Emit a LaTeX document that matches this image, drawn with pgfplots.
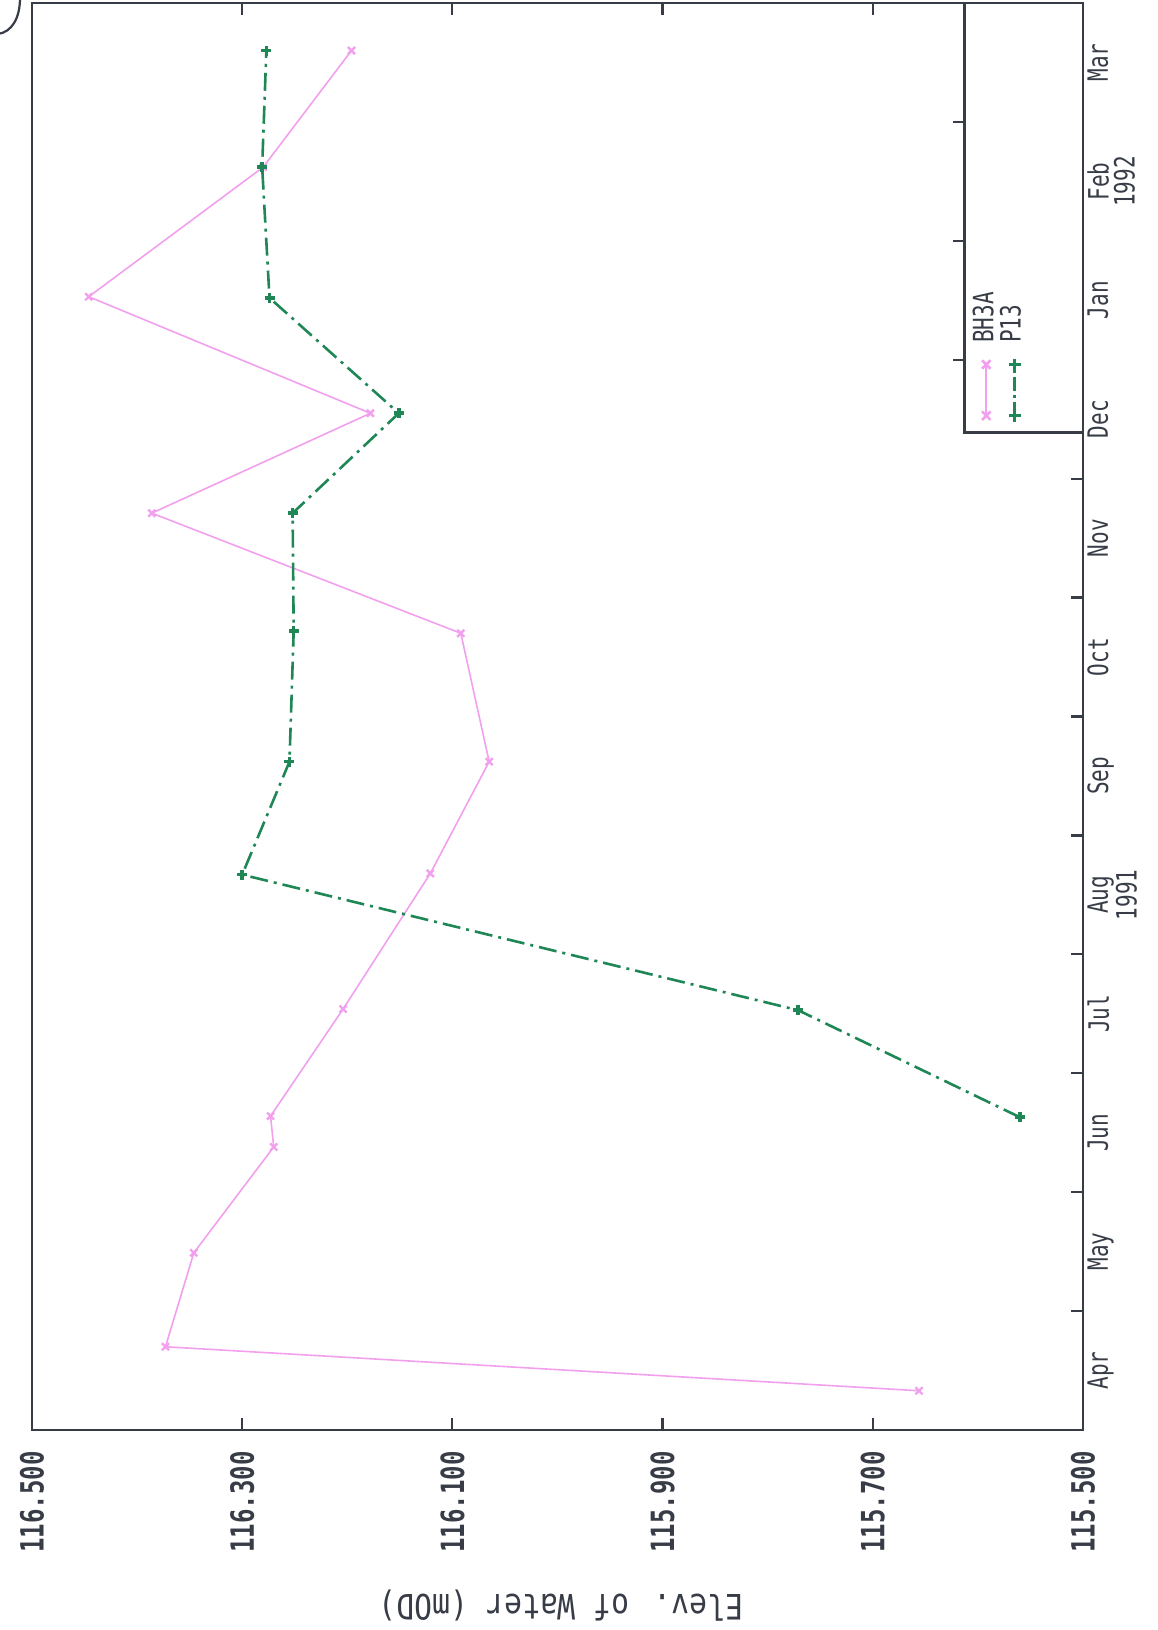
\documentclass[border=0pt]{standalone}
\usepackage{fontspec}
\usepackage{pgfplots}
\usepackage{pgfplotstable}
\pgfplotsset{compat=1.18}

\newfontfamily\plotfont[FakeStretch=0.75]{DejaVu Sans Mono}
\newfontfamily\labelfont[FakeStretch=0.85]{DejaVu Sans Mono}

\definecolor{bhpink}{RGB}{242,160,238}
\definecolor{pgreen}{RGB}{30,135,85}
\definecolor{framec}{RGB}{55,60,70}

% water level (mOD) against time in months from 1 April 1991
\pgfplotstableread{
elev    t
115.656 0.33
116.373 0.70
116.346 1.49
116.270 2.38
116.273 2.64
116.204 3.54
116.121 4.68
116.065 5.62
116.092 6.70
116.386 7.71
116.178 8.55
116.446 9.53
116.280 10.62
116.196 11.60
}\bhthreea

\pgfplotstableread{
elev    t
115.560 2.63
115.771 3.53
116.300 4.67
116.255 5.62
116.251 6.72
116.252 7.71
116.151 8.55
116.274 9.52
116.281 10.62
116.277 11.60
}\pthirteen

\tikzset{dashdot13/.style={dash pattern=on 9pt off 3pt on 1.5pt off 3pt}}

\begin{document}
\begin{tikzpicture}
\begin{axis}[
  scale only axis, width=525.5pt, height=713.5pt,
  at={(0,0)}, anchor=south west,
  clip=false,
  xmin=115.5, xmax=116.5, x dir=reverse,
  ymin=0, ymax=12,
  axis line style={draw=framec, line width=1.3pt},
  major tick length=0pt,
  minor tick length=6pt,
  every tick/.style={draw=framec, line width=1.1pt},
  xtick={115.5,115.7,115.9,116.1,116.3,116.5},
  xticklabels={115.500,115.700,115.900,116.100,116.300,116.500},
  minor xtick={115.7,115.9,116.1,116.3},
  xticklabel style={rotate=90, anchor=east, inner xsep=10.5pt, inner ysep=0pt,
    font=\plotfont\bfseries\fontsize{16}{16}\selectfont, text=framec},
  ytick pos=right,
  yticklabel pos=right,
  ytick={0.5,1.5,2.5,3.5,4.5,5.5,6.5,7.5,8.5,9.5,10.5,11.5},
  yticklabels={Apr,May,Jun,Jul,{Aug\\1991},Sep,Oct,Nov,Dec,Jan,{Feb\\1992},Mar},
  minor ytick={1,2,3,4,5,6,7,8},
  yticklabel style={rotate=90, anchor=north, align=center, inner ysep=2pt,
    font=\plotfont\fontsize{14}{13}\selectfont, text=framec},
]
\addplot[bhpink, line width=0.8pt, mark=x, mark size=2.5pt,
  mark options={solid, line width=1.2pt}] table[x=elev, y=t] {\bhthreea};
\addplot[pgreen, line width=1.3pt, dashdot13, mark=+, mark size=2.5pt,
  mark options={solid, line width=1.8pt}] table[x=elev, y=t] {\pthirteen};

% key box in the late-season corner
\draw[framec, line width=1.3pt] (axis cs:115.5,8.39) -- (axis cs:115.613,8.39)
  -- (axis cs:115.613,12);
\draw[framec, line width=1.1pt] (axis cs:115.613,9) -- (axis cs:115.624,9);
\draw[framec, line width=1.1pt] (axis cs:115.613,10) -- (axis cs:115.624,10);
\draw[framec, line width=1.1pt] (axis cs:115.613,11) -- (axis cs:115.624,11);
\addplot[bhpink, line width=0.8pt, mark=x, mark size=3pt,
  mark options={solid, line width=1.3pt}, forget plot]
  coordinates {(115.592,8.53) (115.592,8.96)};
\addplot[pgreen, line width=1.3pt, dash pattern=on 7pt off 2pt on 1.5pt off 2pt,
  mark=+, mark size=3pt, mark options={solid, line width=1.8pt}, forget plot]
  coordinates {(115.565,8.53) (115.565,8.96)};
\node[rotate=90, anchor=west, inner sep=0pt, text=framec,
  font=\plotfont\fontsize{14}{14}\selectfont] at (axis cs:115.595,9.14) {BH3A};
\node[rotate=90, anchor=west, inner sep=0pt, text=framec,
  font=\plotfont\fontsize{14}{14}\selectfont] at (axis cs:115.569,9.14) {P13};
\end{axis}

\node[rotate=180, text=framec, font=\labelfont\fontsize{17.5}{17.5}\selectfont]
  at (264.5pt,-88pt) {Elev. of Water (mOD)};

% corner of the sheet border
\draw[framec, line width=1.1pt] (-6pt,716pt) .. controls (-6pt,706pt) and (-10pt,699pt) .. (-17pt,698pt);

\pgfresetboundingbox
\path (-16pt,-100pt) rectangle (563pt,715pt);
\end{tikzpicture}
\end{document}
